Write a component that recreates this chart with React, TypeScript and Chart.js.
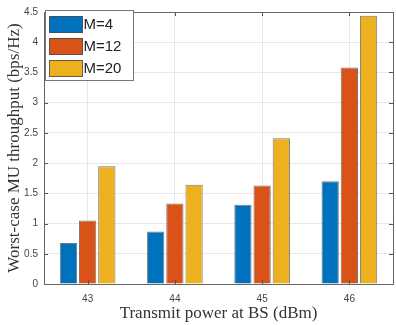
import React, { useEffect, useRef } from "react";
import { Chart, registerables } from "chart.js";

Chart.register(...registerables);

const categories = ["43", "44", "45", "46"];
const seriesNames = ["M=4", "M=12", "M=20"];
const m4 = [0.68, 0.87, 1.31, 1.70];
const m12 = [1.05, 1.33, 1.63, 3.58];
const m20 = [1.95, 1.64, 2.41, 4.44];
const colors = ["#0072BD", "#D95319", "#EDB120"];
const yTicks = [0, 0.5, 1, 1.5, 2, 2.5, 3, 3.5, 4, 4.5];

const framePlugin = {
  id: "frame",
  afterDatasetsDraw(chart: any) {
    const { ctx, chartArea: a, scales } = chart;
    ctx.save();
    ctx.strokeStyle = "#555";
    ctx.lineWidth = 1;
    yTicks.forEach((v) => {
      const y = Math.round(scales.y.getPixelForValue(v)) + 0.5;
      ctx.beginPath();
      ctx.moveTo(a.left, y);
      ctx.lineTo(a.left + 4, y);
      ctx.moveTo(a.right, y);
      ctx.lineTo(a.right - 4, y);
      ctx.stroke();
    });
    categories.forEach((_, i) => {
      const x = Math.round(scales.x.getPixelForValue(i)) + 0.5;
      ctx.beginPath();
      ctx.moveTo(x, a.bottom);
      ctx.lineTo(x, a.bottom - 4);
      ctx.moveTo(x, a.top);
      ctx.lineTo(x, a.top + 4);
      ctx.stroke();
    });
    ctx.strokeStyle = "#666";
    ctx.strokeRect(Math.round(a.left) + 0.5, Math.round(a.top) + 0.5, Math.round(a.right - a.left), Math.round(a.bottom - a.top));
    const lx = a.left + 1.5;
    const ly = a.top - 1.5;
    const lw = 88;
    const lh = 70;
    ctx.fillStyle = "#fff";
    ctx.fillRect(lx, ly, lw, lh);
    ctx.strokeStyle = "#777";
    ctx.strokeRect(lx, ly, lw, lh);
    ctx.font = "15px 'Liberation Sans', Arial, sans-serif";
    ctx.textBaseline = "middle";
    chart.data.datasets.forEach((ds: any, i: number) => {
      const sy = ly + 6 + i * 22;
      ctx.fillStyle = ds.backgroundColor;
      ctx.fillRect(lx + 4, sy, 33, 16);
      ctx.strokeStyle = "rgba(40,40,40,0.7)";
      ctx.strokeRect(lx + 4, sy, 33, 16);
      ctx.fillStyle = "#222";
      ctx.fillText(ds.label, lx + 38, sy + 8.5);
    });
    ctx.restore();
  },
};

export default function App() {
  const ref = useRef<HTMLCanvasElement>(null);
  useEffect(() => {
    const chart = new Chart(ref.current!, {
      type: "bar",
      data: {
        labels: categories,
        datasets: [m4, m12, m20].map((d, i) => ({
          label: seriesNames[i],
          data: d,
          backgroundColor: colors[i],
          borderColor: "rgba(50,50,50,0.65)",
          borderWidth: 1,
          categoryPercentage: 0.66,
          barPercentage: 0.9,
        })),
      },
      options: {
        animation: false,
        responsive: false,
        maintainAspectRatio: false,
        layout: { padding: { top: 9, right: 3, left: 0, bottom: 0 } },
        plugins: { legend: { display: false }, tooltip: { enabled: false } },
        scales: {
          x: {
            offset: true,
            grid: { offset: false, color: "#e8e8e8", drawTicks: false },
            border: { display: false },
            ticks: {
              padding: 9,
              color: "#444",
              font: { size: 10, family: "'Liberation Sans', Arial, sans-serif" },
            },
            title: {
              display: true,
              text: "Transmit power at BS (dBm)",
              color: "#333",
              font: { size: 17, family: "'Liberation Serif', 'Times New Roman', serif" },
              padding: { top: 0, bottom: 1 },
            },
            afterFit: (s: any) => {
              s.height = 41;
            },
          },
          y: {
            min: 0,
            max: 4.5,
            afterBuildTicks: (s: any) => {
              s.ticks = yTicks.map((v) => ({ value: v }));
            },
            grid: { color: "#e8e8e8", drawTicks: false },
            border: { display: false },
            ticks: {
              padding: 6,
              color: "#444",
              font: { size: 10, family: "'Liberation Sans', Arial, sans-serif" },
              callback: (v: any) => String(v),
            },
            title: {
              display: true,
              text: "Worst-case MU throughput (bps/Hz)",
              color: "#333",
              font: { size: 17, family: "'Liberation Serif', 'Times New Roman', serif" },
              padding: { top: 4, bottom: 0 },
            },
            afterFit: (s: any) => {
              s.width = 44;
            },
          },
        },
      },
      plugins: [framePlugin],
    });
    return () => chart.destroy();
  }, []);
  return (
    <div style={{ position: "fixed", left: 0, top: 0, width: 396, height: 325, background: "#fff" }}>
      <canvas ref={ref} width={396} height={325} style={{ width: 396, height: 325 }} />
    </div>
  );
}
